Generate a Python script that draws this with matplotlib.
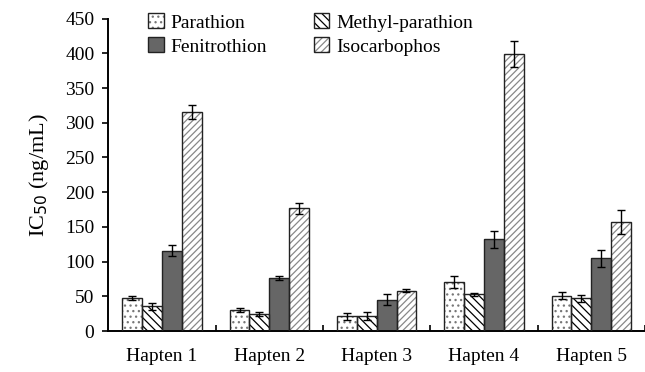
import numpy as np
import matplotlib.pyplot as plt

plt.rcParams["font.family"] = ["Liberation Serif", "DejaVu Serif"]
plt.rcParams["hatch.linewidth"] = 0.9

haptens = ["Hapten 1", "Hapten 2", "Hapten 3", "Hapten 4", "Hapten 5"]
series = ["Parathion", "Methyl-parathion", "Fenitrothion", "Isocarbophos"]

parathion = [48, 30, 21, 71, 51]
parathion_err = [3, 3, 5, 9, 5]
methyl = [36, 25, 22, 53, 47]
methyl_err = [5, 3, 6, 2, 5]
fenitrothion = [116, 76, 45, 132, 105]
fenitrothion_err = [8, 3, 8, 12, 12]
isocarbophos = [315, 177, 58, 399, 157]
isocarbophos_err = [10, 8, 2, 19, 17]

values = [parathion, methyl, fenitrothion, isocarbophos]
errors = [parathion_err, methyl_err, fenitrothion_err, isocarbophos_err]
faces = ["white", "white", "#666666", "white"]
hatches = ["...", "\\\\\\\\", None, "/////"]
hatch_colors = ["#777777", "black", "#666666", "#888888"]

fig, ax = plt.subplots(figsize=(6.45, 3.72), dpi=100)
fig.subplots_adjust(left=0.168, right=1.0, top=0.95, bottom=0.11)

x = np.arange(len(haptens))
w = 0.185
handles = []
for i, (vals, errs) in enumerate(zip(values, errors)):
    pos = x + (i - 1.5) * w
    b1 = ax.bar(pos, vals, w, facecolor=faces[i], hatch=hatches[i],
                edgecolor=hatch_colors[i], linewidth=0, zorder=2)
    b2 = ax.bar(pos, vals, w, facecolor="none", edgecolor="#222222", linewidth=1.0, zorder=3)
    ax.errorbar(pos, vals, yerr=errs, fmt="none", ecolor="black", elinewidth=1,
                capsize=3, capthick=1, zorder=4)
    handles.append((b1[0], b2[0]))

ax.set_xlim(-0.5, len(haptens) - 0.5)
ax.set_ylim(0, 450)
ax.set_yticks(np.arange(0, 451, 50))
ax.set_xticks(x)
ax.set_xticklabels(haptens, fontsize=14)
ax.tick_params(axis="x", length=0, pad=12)
ax.set_xticks(np.arange(0.5, len(haptens), 1), minor=True)
ax.tick_params(axis="x", which="minor", direction="in", length=4, width=1.2)
ax.tick_params(axis="y", direction="out", length=4, width=1.2, labelsize=14, pad=6)
ax.set_ylabel("IC$_{50}$ (ng/mL)", fontsize=16, labelpad=10)

for s in ["top", "right"]:
    ax.spines[s].set_visible(False)
for s in ["left", "bottom"]:
    ax.spines[s].set_linewidth(1.4)

order = [0, 2, 1, 3]
ax.legend([handles[k] for k in order], [series[k] for k in order], ncol=2,
          loc="upper left", bbox_to_anchor=(0.215, 0.99), bbox_transform=fig.transFigure,
          frameon=False, fontsize=14, handlelength=0.8, handleheight=0.8,
          columnspacing=2.4, labelspacing=0.3, handletextpad=0.35, borderpad=0)

fig.savefig("out.png", dpi=100)
